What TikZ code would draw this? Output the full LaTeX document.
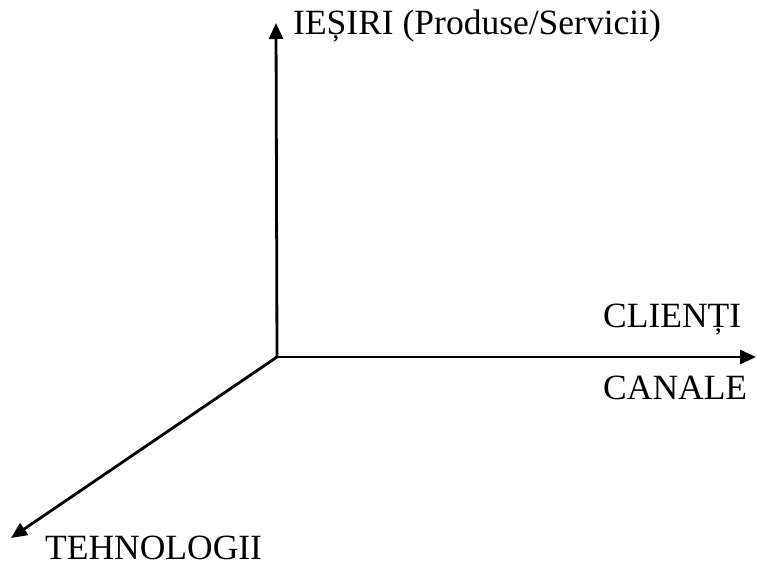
\documentclass[tikz,border=0pt]{standalone}
\usepackage{fontspec}
\setmainfont{Liberation Serif}
\usetikzlibrary{arrows.meta}
\tikzset{
  axis/.style={line width=2.8pt, -{Triangle[length=16pt,width=14pt]}},
  lbl/.style={font=\fontsize{35.5}{40}\selectfont, inner sep=0pt, anchor=base west}
}
\begin{document}
\begin{tikzpicture}[x=1pt,y=1pt]
  \useasboundingbox (0,0) rectangle (757,573);
  % origin and axis ends
  \coordinate (o) at (277,216);
  \coordinate (up) at (276,550);
  \coordinate (right) at (756,216);
  \coordinate (diag) at (11,35);
  \draw[axis] (o) -- (up);
  \draw[axis] (o) -- (right);
  \draw[axis] (o) -- (diag);
  % axis labels
  \node[lbl] (iesiri) at (293,538) {IEȘIRI (Produse/Servicii)};
  \node[lbl] (clienti) at (603,245) {CLIENȚI};
  \node[lbl] (canale) at (603,173) {CANALE};
  \node[lbl] (tehno) at (45,14) {TEHNOLOGII};
\end{tikzpicture}
\end{document}
